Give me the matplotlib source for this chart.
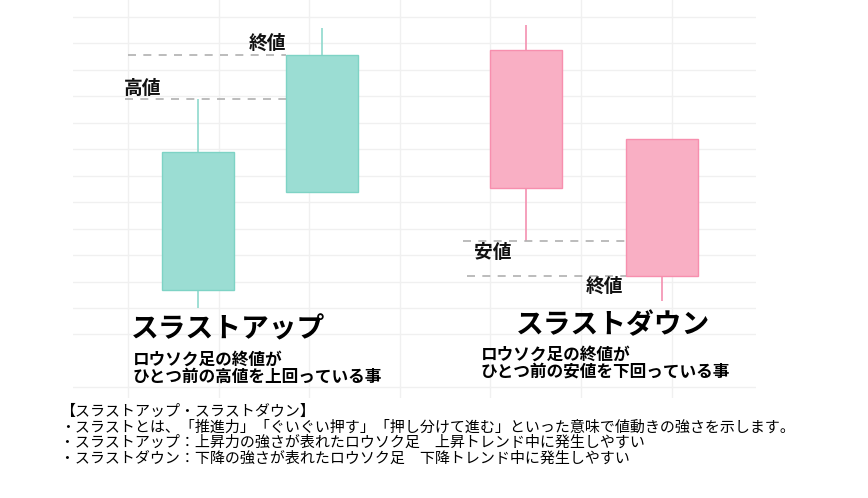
import matplotlib
matplotlib.use("Agg")
import matplotlib.pyplot as plt

plt.rcParams['font.family'] = ['Noto Sans CJK JP', 'DejaVu Sans']

# candle data (thrust up pair, thrust down pair)
x_pos = [0.77, 2.14, 4.39, 5.89]
opens = [0.7, 4.4, 9.75, 6.4]
closes = [5.9, 9.55, 4.55, 1.2]
highs = [7.9, 10.6, 10.7, 6.4]
lows = [0.0, 4.4, 2.55, 0.25]

titles = ["スラストアップ", "スラストダウン"]
sub_up = ["ロウソク足の終値が", "ひとつ前の高値を上回っている事"]
sub_down = ["ロウソク足の終値が", "ひとつ前の安値を下回っている事"]
notes = [
    "【スラストアップ・スラストダウン】",
    "・スラストとは、「推進力」「ぐいぐい押す」「押し分けて進む」といった意味で値動きの強さを示します。",
    "・スラストアップ：上昇力の強さが表れたロウソク足　上昇トレンド中に発生しやすい",
    "・スラストダウン：下降の強さが表れたロウソク足　下降トレンド中に発生しやすい",
]

W, H = 868, 498


def fx(px):
    return px / W


def fy(py):
    return 1 - py / H


fig = plt.figure(figsize=(W / 100, H / 100), dpi=100)
ax = fig.add_axes([fx(73), fy(398), fx(756) - fx(73), fy(0) - fy(398)])
ax.set_xlim(-0.607, 6.93)
ax.set_ylim(-3.4, 11.64)
ax.set_xticks(range(0, 7))
ax.set_yticks([-3, -1] + list(range(0, 12)))
ax.grid(True, color='#f0f0f0', lw=1)
ax.set_axisbelow(True)
ax.tick_params(length=0, labelbottom=False, labelleft=False)
for s in ax.spines.values():
    s.set_visible(False)

width = 0.8
for i in range(len(x_pos)):
    up = closes[i] >= opens[i]
    fill = '#9bddd3' if up else '#f9afc4'
    edge = '#7ed3c5' if up else '#f78fae'
    wick = '#8fd9cd' if up else '#f490b0'
    ax.vlines(x_pos[i], lows[i], highs[i], color=wick, lw=1.2, zorder=2)
    ax.bar(x_pos[i], closes[i] - opens[i], bottom=opens[i], width=width,
           color=fill, edgecolor=edge, lw=1, zorder=3)

# reference dashed lines
dash = dict(colors='#b0b0b0', linestyles=(0, (4.8, 4.4)), lw=1.2, zorder=4)
ax.hlines(highs[0], -0.03, x_pos[1] - width / 2, **dash)
ax.hlines(closes[1], 0.0, x_pos[1] - width / 2, **dash)
ax.hlines(lows[2], 3.70, x_pos[3] - width / 2, **dash)
ax.hlines(closes[3], 3.74, x_pos[3] - width / 2, **dash)

lab = dict(fontsize=13.5, fontweight='bold', ha='center', va='center', color='#111111')
fig.text(fx(143), fy(88), "高値", **lab)
fig.text(fx(267), fy(43), "終値", **lab)
fig.text(fx(493), fy(253), "安値", **lab)
fig.text(fx(604), fy(286), "終値", **lab)

fig.text(fx(131), fy(329), titles[0], fontsize=20, fontweight='bold', va='center')
fig.text(fx(516), fy(325), titles[1], fontsize=20, fontweight='bold', va='center')

fig.text(fx(133), fy(368), "\n".join(sub_up), fontsize=12, fontweight='bold',
         va='center', linespacing=0.92)
fig.text(fx(481), fy(363), "\n".join(sub_down), fontsize=12, fontweight='bold',
         va='center', linespacing=0.92)

fig.text(fx(60), fy(435), "\n".join(notes), fontsize=10.8, va='center',
         linespacing=1.12)

fig.savefig("out.png", dpi=100)
